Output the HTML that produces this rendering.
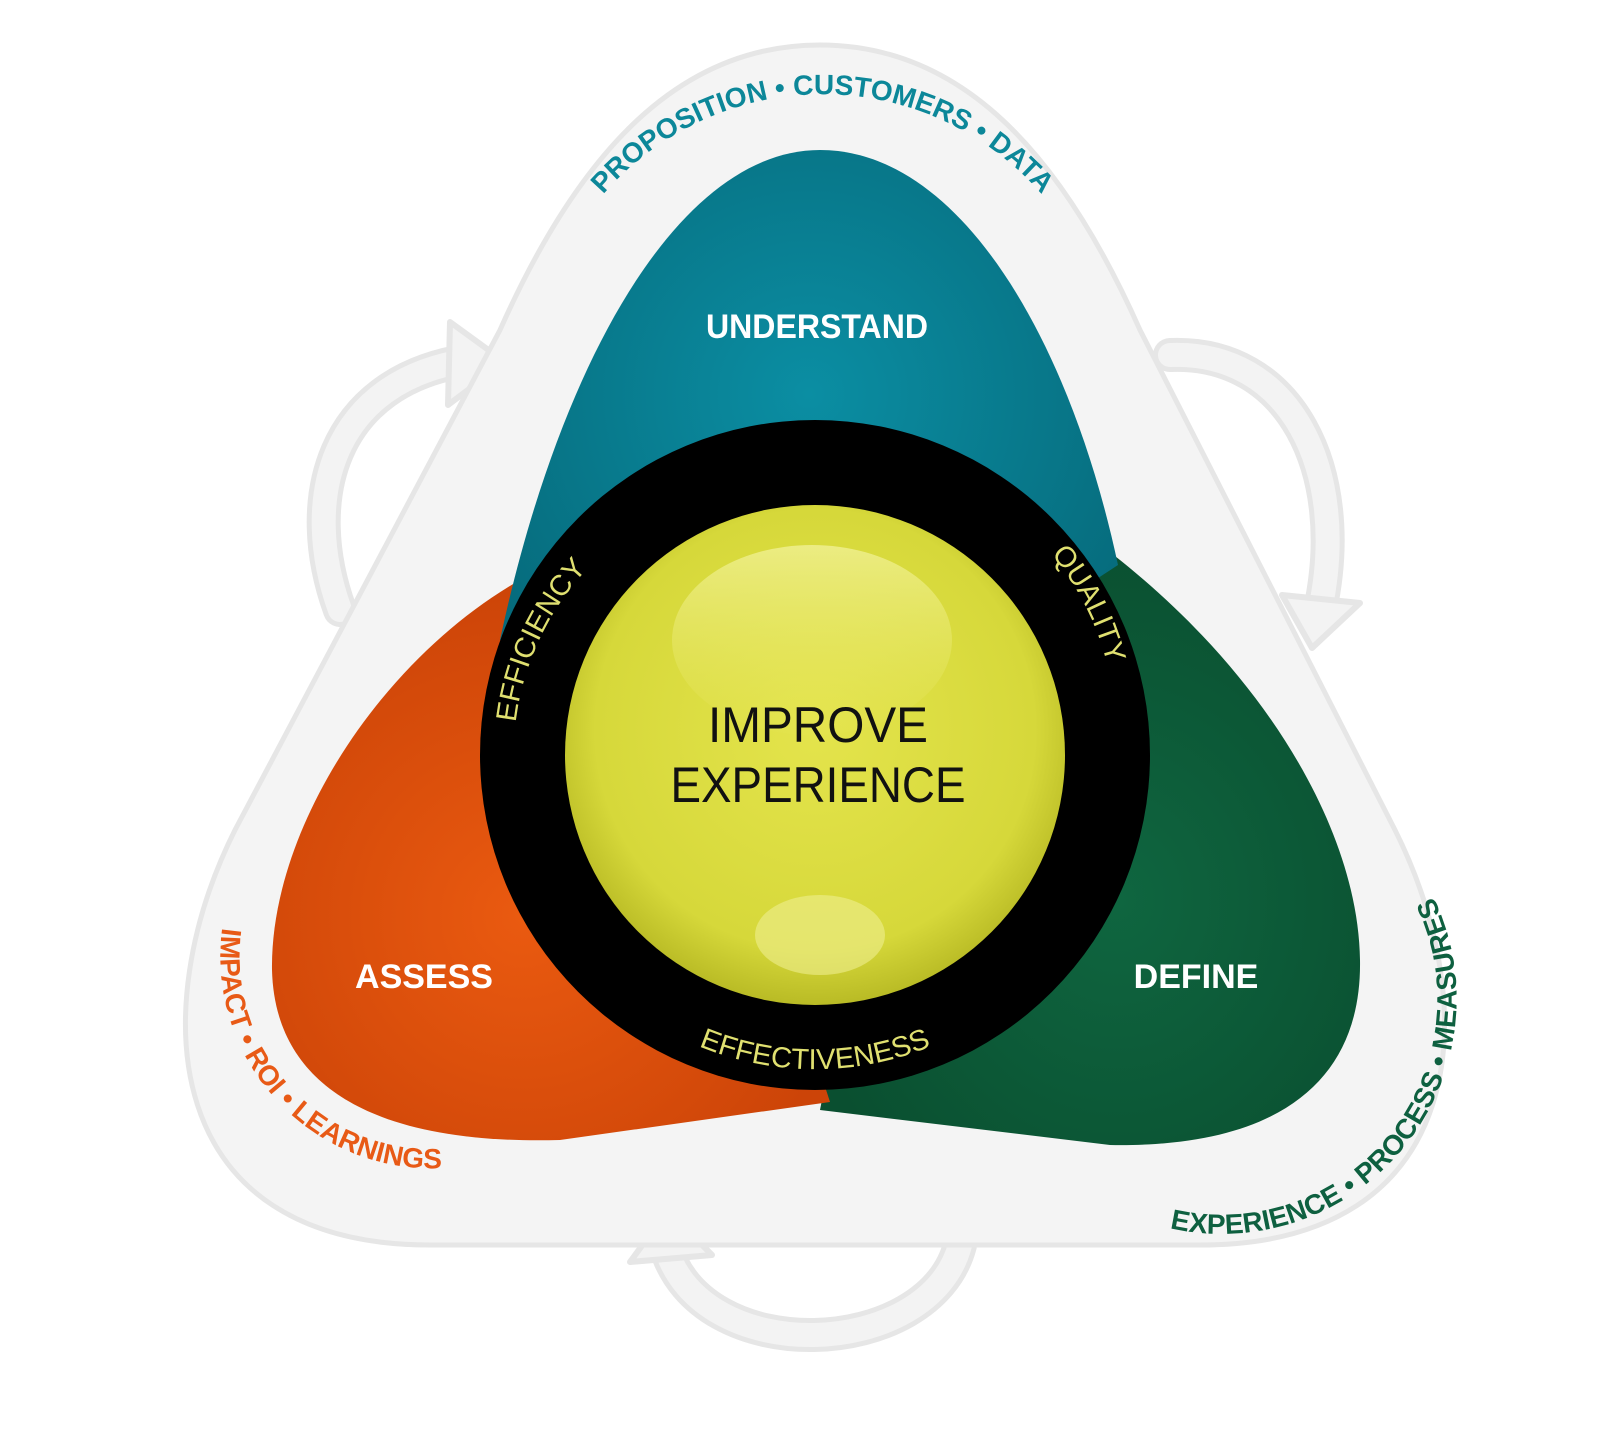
<!DOCTYPE html>
<html><head><meta charset="utf-8"><style>
html,body{margin:0;padding:0;background:#fff;}
svg{display:block;}
text{font-family:"Liberation Sans","DejaVu Sans",sans-serif;}
</style></head><body>
<svg width="1600" height="1440" viewBox="0 0 1600 1440" xmlns="http://www.w3.org/2000/svg">
<defs>
<radialGradient id="gy" cx="50%" cy="45%" r="55%">
<stop offset="0" stop-color="#e4e44c"/><stop offset="0.8" stop-color="#d6d83a"/><stop offset="1" stop-color="#b9bb25"/></radialGradient>
<linearGradient id="hl" x1="0" y1="0" x2="0" y2="1"><stop offset="0" stop-color="#f4f4a0"/><stop offset="1" stop-color="#e6e65a" stop-opacity="0.2"/></linearGradient>
<radialGradient id="gt" cx="50%" cy="40%" r="60%"><stop offset="0" stop-color="#0b8ea3"/><stop offset="1" stop-color="#066b7c"/></radialGradient>
<radialGradient id="go" cx="45%" cy="60%" r="60%"><stop offset="0" stop-color="#ea5a10"/><stop offset="1" stop-color="#cc4408"/></radialGradient>
<radialGradient id="gg" cx="55%" cy="60%" r="60%"><stop offset="0" stop-color="#0f6640"/><stop offset="1" stop-color="#0a4f30"/></radialGradient>
<path id="ptop" d="M 545,300 A 290 290 0 0 1 1100,300"/>
<path id="pleft" d="M 228,900 A 212 212 0 0 0 470,1165"/>
<path id="pright" d="M 1100,1200 A 235 235 0 0 0 1390,835"/>
<path id="peff" d="M 535,860 A 272 272 0 0 1 705,495"/>
<path id="pqual" d="M 1010,515 A 272 272 0 0 1 1115,720"/>
<path id="pbot" d="M 610,990 A 305 305 0 0 0 1020,990"/>
</defs>

<g fill="none" stroke-linecap="round">
<path d="M 340,610 C 300,500 330,380 470,360" stroke="#e6e6e6" stroke-width="34"/>
<path d="M 340,610 C 300,500 330,380 470,360" stroke="#f3f3f3" stroke-width="24"/>
<path d="M 1170,355 C 1290,350 1350,470 1320,610" stroke="#e6e6e6" stroke-width="34"/>
<path d="M 1170,355 C 1290,350 1350,470 1320,610" stroke="#f3f3f3" stroke-width="24"/>
<path d="M 960,1245 C 930,1360 700,1370 665,1245" stroke="#e6e6e6" stroke-width="34"/>
<path d="M 960,1245 C 930,1360 700,1370 665,1245" stroke="#f3f3f3" stroke-width="24"/>
</g>
<g fill="#f3f3f3" stroke="#e6e6e6" stroke-width="6" stroke-linejoin="round">
<polygon points="450,322 505,362 448,405"/>
<polygon points="1282,595 1360,603 1312,648"/>
<polygon points="630,1262 668,1210 712,1255"/>
</g>

<path d="M 820,45 C 960,45 1060,150 1140,330 L 1395,830 C 1485,1010 1470,1245 1200,1245 L 430,1245 C 160,1245 145,1010 235,830 L 500,330 C 580,150 680,45 820,45 Z" fill="#f4f4f4" stroke="#e6e6e6" stroke-width="5"/>

<path d="M 820,1110 L 1110,1145 C 1280,1148 1362,1080 1360,960 C 1358,820 1250,650 1080,530 L 900,700 Z" fill="url(#gg)"/>
<path d="M 830,1102 L 560,1140 C 380,1145 275,1090 272,970 C 270,830 380,660 520,580 L 700,700 Z" fill="url(#go)"/>
<path d="M 500,640 C 560,360 680,150 820,150 C 960,150 1070,340 1118,565 L 820,760 Z" fill="url(#gt)"/>

<circle cx="815" cy="755" r="335" fill="#000"/>
<circle cx="815" cy="755" r="250" fill="url(#gy)"/>
<ellipse cx="812" cy="640" rx="140" ry="95" fill="url(#hl)" opacity="0.7"/>
<ellipse cx="820" cy="935" rx="65" ry="40" fill="#eeee90" opacity="0.6"/>

<g fill="#fff" font-size="34" font-weight="bold" text-anchor="middle">
<text x="817" y="338" textLength="222" lengthAdjust="spacingAndGlyphs">UNDERSTAND</text>
<text x="424" y="988">ASSESS</text>
<text x="1196" y="988">DEFINE</text>
</g>
<g fill="#111" font-size="50" text-anchor="middle">
<text x="818" y="742" textLength="220" lengthAdjust="spacingAndGlyphs">IMPROVE</text>
<text x="818" y="802" textLength="295" lengthAdjust="spacingAndGlyphs">EXPERIENCE</text>
</g>
<g fill="#e0e070" font-size="29">
<text><textPath href="#peff" startOffset="50%" text-anchor="middle">EFFICIENCY</textPath></text>
<text><textPath href="#pqual" startOffset="50%" text-anchor="middle">QUALITY</textPath></text>
<text><textPath href="#pbot" startOffset="50%" text-anchor="middle">EFFECTIVENESS</textPath></text>
</g>
<g font-size="28" font-weight="bold">
<text fill="#0c8799"><textPath href="#ptop" startOffset="50%" text-anchor="middle">PROPOSITION   •   CUSTOMERS   •   DATA</textPath></text>
<text fill="#e85a16"><textPath href="#pleft" startOffset="50%" text-anchor="middle">IMPACT   •   ROI   •   LEARNINGS</textPath></text>
<text fill="#0e6040"><textPath href="#pright" startOffset="50%" text-anchor="middle">EXPERIENCE   •   PROCESS   •   MEASURES</textPath></text>
</g>
</svg>
</body></html>
